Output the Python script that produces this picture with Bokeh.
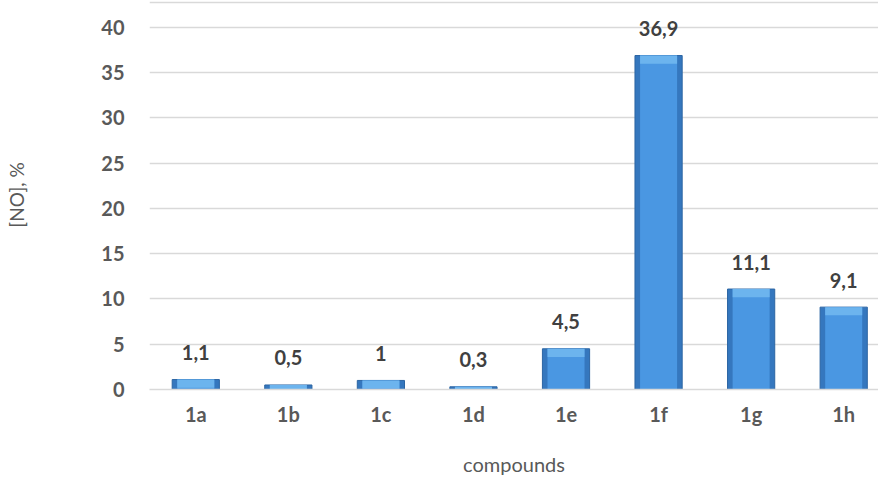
from bokeh.plotting import figure
from bokeh.models import ColumnDataSource, FixedTicker, Range1d, Span
from bokeh.core.properties import value
from bokeh.embed import file_html
from bokeh.resources import INLINE

compounds = ["1a", "1b", "1c", "1d", "1e", "1f", "1g", "1h"]
no_values = [1.1, 0.5, 1.0, 0.3, 4.5, 36.9, 11.1, 9.1]
value_labels = ["1,1", "0,5", "1", "0,3", "4,5", "36,9", "11,1", "9,1"]
y_ticks = [0, 5, 10, 15, 20, 25, 30, 35, 40]

xs = list(range(len(compounds)))
bevel = 0.9
hl_bottom = [max(v - bevel, 0) for v in no_values]
src = ColumnDataSource(dict(x=xs, top=no_values, lab=value_labels, hb=hl_bottom))

p = figure(width=878, height=478, output_backend="svg", toolbar_location=None,
           x_range=Range1d(-0.5, 7.376), y_range=Range1d(0, 42.98),
           min_border_left=149, min_border_right=0, min_border_top=0, min_border_bottom=89)
p.outline_line_color = None
p.background_fill_color = "white"
p.border_fill_color = "white"

p.add_layout(Span(location=42.76, dimension="width", line_color="#D9D9D9", line_width=1.5))

# bars: dark outer, lighter inner for a bevel feel
p.vbar(x="x", top="top", bottom=0, width=0.51, source=src,
       fill_color="#3577BE", line_color="#2C65A3", line_width=1)
p.vbar(x="x", top="top", bottom=0, width=0.40, source=src,
       fill_color="#4A97E2", line_color=None)
p.vbar(x="x", top="top", bottom="hb", width=0.40, source=src,
       fill_color="#6CB4EE", line_color=None)

p.text(x="x", y="top", text="lab", source=src, y_offset=-27,
       text_align="center", text_baseline="middle",
       text_font=value("Lato"), text_font_style="bold", text_font_size="20px",
       text_color="#404040")

p.xgrid.grid_line_color = None
p.ygrid.grid_line_color = "#D9D9D9"
p.ygrid.grid_line_width = 1.5
p.ygrid.ticker = FixedTicker(ticks=y_ticks)

p.yaxis.ticker = FixedTicker(ticks=y_ticks)
p.yaxis.axis_line_color = None
p.yaxis.major_tick_line_color = None
p.yaxis.minor_tick_line_color = None
p.yaxis.major_label_standoff = 19
p.yaxis.major_label_text_font = "Lato"
p.yaxis.major_label_text_font_style = "bold"
p.yaxis.major_label_text_font_size = "20px"
p.yaxis.major_label_text_color = "#595959"
p.yaxis.axis_label = "[NO], %"
p.yaxis.axis_label_text_font = "Lato"
p.yaxis.axis_label_text_font_style = "normal"
p.yaxis.axis_label_text_font_size = "19px"
p.yaxis.axis_label_text_color = "#595959"
p.yaxis.axis_label_standoff = 70

p.xaxis.ticker = FixedTicker(ticks=xs)
p.xaxis.major_label_overrides = {i: c for i, c in enumerate(compounds)}
p.xaxis.axis_line_color = "#D9D9D9"
p.xaxis.axis_line_width = 1.5
p.xaxis.major_tick_line_color = None
p.xaxis.minor_tick_line_color = None
p.xaxis.major_label_standoff = 6
p.xaxis.major_label_text_font = "Lato"
p.xaxis.major_label_text_font_style = "bold"
p.xaxis.major_label_text_font_size = "20px"
p.xaxis.major_label_text_color = "#595959"
p.xaxis.axis_label = "compounds"
p.xaxis.axis_label_text_font = "Lato"
p.xaxis.axis_label_text_font_style = "normal"
p.xaxis.axis_label_text_font_size = "20px"
p.xaxis.axis_label_text_color = "#595959"
p.xaxis.axis_label_standoff = 23

open("out.html", "w").write(file_html(p, INLINE))
